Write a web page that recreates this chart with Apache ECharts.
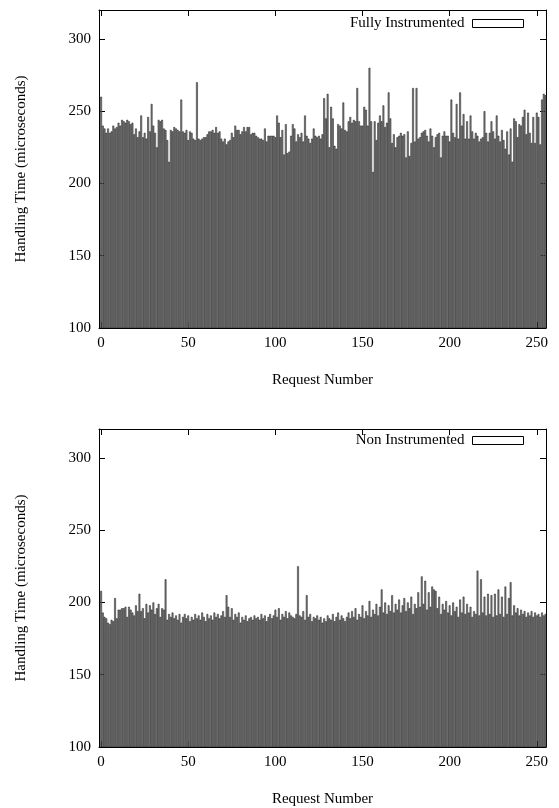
<!DOCTYPE html>
<html>
<head>
<meta charset="utf-8">
<script src="https://cdn.jsdelivr.net/npm/echarts@6/dist/echarts.min.js"></script>
<style>
  html, body { margin: 0; padding: 0; background: #fff; }
  #chart { width: 559px; height: 808px; }
</style>
</head>
<body>
<div id="chart"></div>
<script>
// handling time per request (microseconds)
var fullyInstrumented = [
  260, 240, 238, 235, 238, 235, 236, 240, 238, 239, 242, 240, 244, 243, 242, 244,
  243, 241, 242, 234, 238, 232, 236, 247, 232, 235, 231, 246, 236, 255, 240, 235,
  225, 244, 243, 244, 238, 237, 230, 215, 237, 236, 239, 238, 237, 236, 258, 236,
  235, 237, 230, 236, 235, 231, 230, 270, 231, 230, 231, 232, 232, 234, 236, 236,
  237, 235, 239, 235, 236, 231, 229, 231, 227, 229, 230, 235, 232, 240, 237, 237,
  234, 236, 239, 236, 239, 239, 234, 235, 235, 233, 232, 231, 231, 230, 238, 229,
  233, 233, 233, 233, 232, 247, 242, 232, 237, 220, 241, 221, 222, 233, 241, 238,
  229, 234, 232, 235, 229, 247, 233, 231, 228, 231, 238, 233, 232, 233, 231, 234,
  259, 245, 262, 225, 253, 245, 226, 224, 241, 240, 238, 256, 237, 236, 243, 246,
  242, 244, 243, 266, 243, 240, 240, 253, 251, 240, 280, 243, 208, 243, 230, 242,
  247, 243, 254, 239, 242, 263, 245, 228, 234, 225, 232, 233, 235, 233, 234, 218,
  236, 219, 228, 266, 229, 266, 231, 232, 235, 236, 237, 233, 229, 238, 233, 225,
  232, 234, 235, 218, 233, 236, 233, 233, 229, 258, 235, 232, 255, 231, 263, 240,
  248, 231, 243, 231, 247, 236, 231, 235, 233, 229, 231, 232, 250, 235, 229, 235,
  243, 236, 231, 247, 233, 229, 237, 230, 224, 236, 220, 238, 215, 245, 243, 232,
  241, 240, 246, 251, 234, 249, 235, 228, 246, 228, 249, 246, 227, 258, 262, 261
];
var nonInstrumented = [
  208, 193, 190, 189, 186, 185, 188, 187, 203, 189, 195, 195, 196, 196, 197, 190,
  197, 195, 193, 191, 198, 194, 206, 194, 196, 189, 199, 193, 198, 195, 200, 192,
  196, 199, 190, 196, 195, 216, 188, 192, 190, 193, 189, 191, 188, 192, 186, 190,
  192, 189, 191, 187, 190, 188, 192, 189, 191, 188, 193, 190, 187, 192, 189, 191,
  188, 193, 190, 192, 189, 191, 194, 190, 205, 197, 190, 196, 188, 192, 190, 193,
  186, 190, 188, 191, 187, 189, 190, 188, 191, 189, 190, 188, 192, 189, 191, 187,
  190, 192, 189, 191, 195, 190, 196, 188, 192, 190, 194, 189, 193, 191, 190, 189,
  192, 225, 191, 190, 194, 188, 205, 190, 192, 187, 190, 189, 191, 188, 190, 186,
  189, 187, 191, 189, 188, 192, 187, 190, 193, 188, 191, 189, 187, 190, 193, 189,
  194, 190, 196, 188, 192, 190, 198, 189, 194, 191, 201, 190, 195, 192, 199, 191,
  197, 209, 193, 200, 192, 198, 194, 205, 193, 199, 195, 202, 193, 198, 203, 194,
  200, 196, 204, 192, 199, 196, 207, 197, 218, 199, 215, 195, 207, 197, 211, 209,
  208, 196, 204, 192, 199, 195, 201, 193, 198, 191, 200, 194, 197, 190, 202, 193,
  204, 192, 199, 193, 197, 190, 194, 192, 222, 191, 216, 193, 204, 191, 206, 192,
  205, 190, 206, 191, 209, 192, 204, 190, 211, 192, 203, 214, 191, 198, 193, 196,
  191, 195, 192, 194, 190, 193, 191, 194, 190, 193, 191, 192, 190, 193, 191, 192
];
var requestNumbers = fullyInstrumented.map(function (v, i) { return i; });
var yTicks = [100, 150, 200, 250, 300];
var xTicks = [0, 50, 100, 150, 200, 250];

var font = 'Liberation Serif';
var chart = echarts.init(document.getElementById('chart'), null, { renderer: 'canvas' });

function pairs(values) {
  return values.map(function (v, i) { return [requestNumbers[i], v]; });
}

var line = { show: true, onZero: false, lineStyle: { color: '#000', width: 1 } };
var tick = { show: true, inside: true, length: 6, lineStyle: { color: '#000' } };

function xAxes(grid) {
  return [{
    gridIndex: grid, type: 'value', min: -1.2, max: 255.3,
    axisLine: line, axisTick: tick,
    axisLabel: {
      color: '#000', fontFamily: font, fontSize: 15, margin: 8,
      formatter: function (v) { return xTicks.indexOf(v) >= 0 ? String(v) : ''; }
    },
    splitLine: { show: false },
    name: 'Request Number', nameLocation: 'middle', nameGap: 45,
    nameTextStyle: { color: '#000', fontFamily: font, fontSize: 15 }
  }, {
    gridIndex: grid, type: 'value', min: -1.2, max: 255.3, position: 'top',
    axisLine: line, axisTick: tick,
    axisLabel: { show: false }, splitLine: { show: false }
  }];
}

function yAxes(grid) {
  return [{
    gridIndex: grid, type: 'value', min: 100, max: 320, interval: 50,
    axisLine: line, axisTick: tick,
    axisLabel: {
      color: '#000', fontFamily: font, fontSize: 15, margin: 8,
      formatter: function (v) { return yTicks.indexOf(v) >= 0 ? String(v) : ''; }
    },
    splitLine: { show: false },
    name: 'Handling Time (microseconds)', nameLocation: 'middle', nameGap: 70, nameRotate: 90,
    nameTextStyle: { color: '#000', fontFamily: font, fontSize: 15 }
  }, {
    gridIndex: grid, type: 'value', min: 100, max: 320, interval: 50, position: 'right',
    axisLine: line, axisTick: tick,
    axisLabel: { show: false }, splitLine: { show: false }
  }];
}

var legendBase = {
  right: 30, align: 'right', icon: 'rect', itemWidth: 51, itemHeight: 8,
  itemStyle: { color: '#fff', borderColor: '#000', borderWidth: 1 },
  textStyle: { color: '#000', fontFamily: font, fontSize: 15, padding: [0, 3, 0, 0] }
};

var option = {
  animation: false,
  backgroundColor: '#fff',
  grid: [
    { left: 99, top: 10, width: 447, height: 318 },
    { left: 99, top: 429, width: 447, height: 318 }
  ],
  legend: [
    Object.assign({ data: ['Fully Instrumented'], top: 11 }, legendBase),
    Object.assign({ data: ['Non Instrumented'], top: 428 }, legendBase)
  ],
  xAxis: xAxes(0).concat(xAxes(1)),
  yAxis: yAxes(0).concat(yAxes(1)),
  series: [{
    name: 'Fully Instrumented', type: 'bar', xAxisIndex: 0, yAxisIndex: 0,
    data: pairs(fullyInstrumented), barWidth: 1.75, clip: true,
    itemStyle: { color: '#8a8a8a', borderColor: '#111', borderWidth: 0.5 }
  }, {
    name: 'Non Instrumented', type: 'bar', xAxisIndex: 2, yAxisIndex: 2,
    data: pairs(nonInstrumented), barWidth: 1.75, clip: true,
    itemStyle: { color: '#8a8a8a', borderColor: '#111', borderWidth: 0.5 }
  }]
};
chart.setOption(option);
</script>
</body>
</html>
